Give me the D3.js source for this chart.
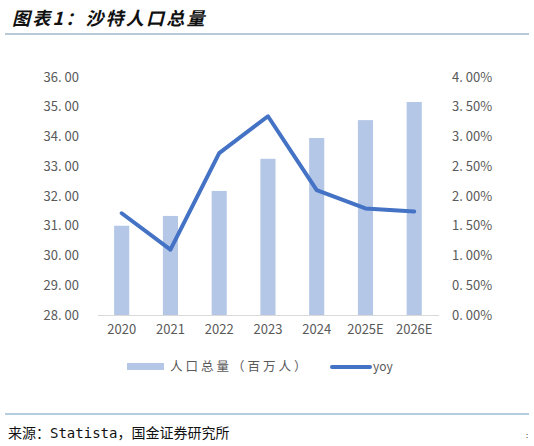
<!DOCTYPE html>
<html>
<head>
<meta charset="utf-8">
<script src="https://cdn.jsdelivr.net/npm/d3@7"></script>
<style>
  html, body { margin: 0; padding: 0; background: #fff; }
  svg { display: block; }
</style>
</head>
<body>
<svg id="chart"></svg>
<script>
// data
const years = ["2020", "2021", "2022", "2023", "2024", "2025E", "2026E"];
const population = [31.00, 31.33, 32.17, 33.25, 33.95, 34.55, 35.16]; // 百万人
const yoy = [0.0171, 0.0110, 0.0272, 0.0334, 0.0210, 0.0179, 0.0174];
const leftTicks = [28, 29, 30, 31, 32, 33, 34, 35, 36];
const rightTicks = [0, 0.005, 0.01, 0.015, 0.02, 0.025, 0.03, 0.035, 0.04];

const W = 534, H = 446;
const colors = { bar: "#b4c7e7", line: "#4472c4", text: "#595959", axis: "#d9d9d9" };
const numFont = "'Noto Sans CJK SC', 'Noto Sans', sans-serif";

const svg = d3.select("#chart").attr("width", W).attr("height", H);

// title + rule
svg.append("text")
  .attr("x", 12).attr("y", 25)
  .text("图表1：沙特人口总量")
  .style("font-family", "'Noto Sans CJK SC', sans-serif")
  .style("font-size", "18px")
  .style("font-weight", "bold")
  .style("font-style", "italic")
  .style("letter-spacing", "2.2px")
  .style("fill", "#111");

svg.append("line")
  .attr("x1", 5).attr("x2", 529).attr("y1", 34).attr("y2", 34)
  .style("stroke", "#b8cad6").style("stroke-width", 2);

// scales
const x = d3.scaleBand().domain(years).range([97.3, 438.6])
  .paddingInner(0.69).paddingOuter(0.345);
const yL = d3.scaleLinear().domain([28, 36]).range([315, 77]);
const yR = d3.scaleLinear().domain([0, 0.04]).range([315, 77]);

const fmtL = d => d3.format(".2f")(d).replace(".", ". ");
const fmtR = d => d3.format(".2%")(d).replace(".", ". ");

// left axis
const axL = svg.append("g").attr("transform", "translate(79,0)")
  .call(d3.axisLeft(yL).tickValues(leftTicks).tickFormat(fmtL).tickSize(0).tickPadding(0));
axL.select(".domain").remove();

// right axis
const axR = svg.append("g").attr("transform", "translate(452,0)")
  .call(d3.axisRight(yR).tickValues(rightTicks).tickFormat(fmtR).tickSize(0).tickPadding(0));
axR.select(".domain").remove();

// x axis
const axX = svg.append("g").attr("transform", "translate(0,315)")
  .call(d3.axisBottom(x).tickSize(0).tickPadding(10));
axX.select(".domain").style("stroke", colors.axis);

svg.selectAll(".tick text")
  .style("font-family", numFont)
  .style("font-size", "13px")
  .style("fill", colors.text);

// bars
svg.append("g").selectAll("rect")
  .data(years)
  .join("rect")
  .attr("x", d => x(d))
  .attr("width", x.bandwidth())
  .attr("y", (d, i) => yL(population[i]))
  .attr("height", (d, i) => yL(28) - yL(population[i]))
  .style("fill", colors.bar);

// yoy line
const line = d3.line()
  .x((d, i) => x(years[i]) + x.bandwidth() / 2)
  .y(d => yR(d));

svg.append("path")
  .datum(yoy)
  .attr("d", line)
  .style("fill", "none")
  .style("stroke", colors.line)
  .style("stroke-width", 4)
  .style("stroke-linejoin", "round")
  .style("stroke-linecap", "round");

// legend
const legend = svg.append("g");
legend.append("rect")
  .attr("x", 127).attr("y", 363).attr("width", 37).attr("height", 7)
  .style("fill", colors.bar);
legend.append("text")
  .attr("x", 170).attr("y", 371)
  .text("人口总量（百万人）")
  .style("font-family", "'Noto Sans CJK SC', sans-serif")
  .style("font-size", "12.5px")
  .style("letter-spacing", "3px")
  .style("fill", colors.text);
legend.append("line")
  .attr("x1", 332).attr("x2", 370).attr("y1", 367).attr("y2", 367)
  .style("stroke", colors.line).style("stroke-width", 4).style("stroke-linecap", "round");
legend.append("text")
  .attr("x", 373).attr("y", 371)
  .text("yoy")
  .style("font-family", numFont)
  .style("font-size", "12px")
  .style("fill", colors.text);

// bottom rule + source
svg.append("line")
  .attr("x1", 5).attr("x2", 529).attr("y1", 414).attr("y2", 414)
  .style("stroke", "#6b9bbf").style("stroke-width", 1);

svg.append("text")
  .attr("x", 8).attr("y", 438)
  .text("来源：Statista，国金证券研究所")
  .style("font-family", "'DejaVu Sans Mono', 'Noto Sans CJK SC', monospace")
  .style("font-size", "14px")
  .style("fill", "#111");

svg.append("text")
  .attr("x", 526).attr("y", 438)
  .text(":")
  .style("font-family", numFont)
  .style("font-size", "8px")
  .style("fill", "#333");
</script>
</body>
</html>
